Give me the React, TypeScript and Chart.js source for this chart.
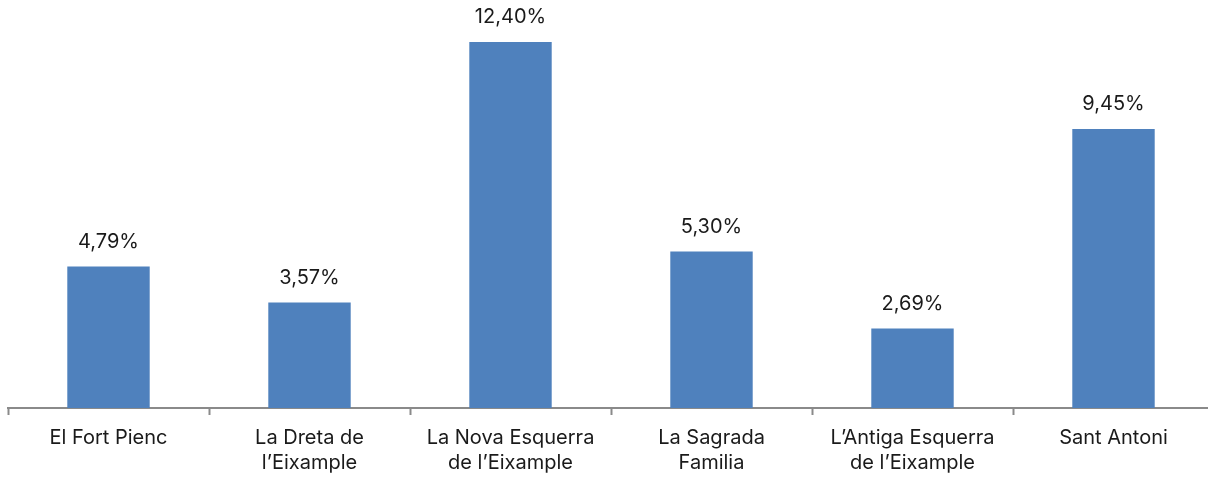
import React, { useEffect, useRef } from "react";
import { Chart, registerables } from "chart.js";

Chart.register(...registerables);

const categories: (string | string[])[] = [
  "El Fort Pienc",
  ["La Dreta de", "l\u2019Eixample"],
  ["La Nova Esquerra", "de l\u2019Eixample"],
  ["La Sagrada", "Familia"],
  ["L\u2019Antiga Esquerra", "de l\u2019Eixample"],
  "Sant Antoni",
];
const values: number[] = [4.79, 3.57, 12.4, 5.3, 2.69, 9.45];
const valueLabels: string[] = ["4,79%", "3,57%", "12,40%", "5,30%", "2,69%", "9,45%"];

const FONT = "Inter, Roboto, sans-serif";

const valueLabelPlugin = {
  id: "valueLabels",
  afterDatasetsDraw(chart: any) {
    const ctx = chart.ctx;
    const meta = chart.getDatasetMeta(0);
    ctx.save();
    ctx.font = `20px ${FONT}`;
    ctx.fillStyle = "#1a1a1a";
    ctx.textAlign = "center";
    ctx.textBaseline = "alphabetic";
    meta.data.forEach((bar: any, i: number) => {
      ctx.fillText(valueLabels[i], bar.x, bar.y - 19);
    });
    ctx.restore();
  },
};

export default function App() {
  const ref = useRef<HTMLCanvasElement>(null);
  useEffect(() => {
    document.body.style.margin = "0";
    document.body.style.overflow = "hidden";
    const chart = new Chart(ref.current!, {
      type: "bar",
      data: {
        labels: categories,
        datasets: [
          {
            data: values,
            backgroundColor: "#4f81bd",
            barPercentage: 0.41,
            categoryPercentage: 1,
          },
        ],
      },
      options: {
        animation: false,
        responsive: false,
        maintainAspectRatio: false,
        layout: { padding: { left: 8, right: 8, top: 0, bottom: 0 } },
        plugins: {
          legend: { display: false },
          tooltip: { enabled: false },
        },
        scales: {
          x: {
            offset: true,
            grid: {
              offset: true,
              drawOnChartArea: false,
              drawTicks: true,
              tickLength: 7,
              tickColor: "#8a8a8a",
              tickWidth: 2,
            },
            border: { display: true, color: "#8a8a8a", width: 2 },
            ticks: {
              color: "#1a1a1a",
              font: { family: FONT, size: 20, lineHeight: 1.25 },
              padding: 10,
              maxRotation: 0,
              autoSkip: false,
            },
            afterFit: (scale: any) => {
              scale.height = 71;
            },
          },
          y: {
            display: false,
            min: 0,
            max: 13.82,
          },
        },
      },
      plugins: [valueLabelPlugin],
    });
    return () => chart.destroy();
  }, []);
  return (
    <div style={{ position: "absolute", left: 0, top: 0, width: 1222, height: 479 }}>
      <canvas ref={ref} width={1222} height={479} style={{ width: 1222, height: 479 }} />
    </div>
  );
}
